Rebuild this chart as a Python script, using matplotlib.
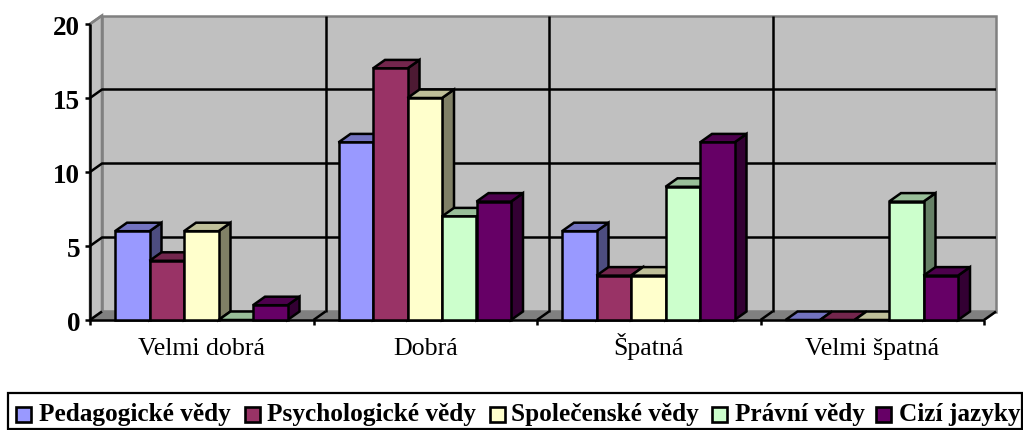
import matplotlib
matplotlib.use('Agg')
import matplotlib.pyplot as plt
from matplotlib.colors import to_rgb
from matplotlib.patches import Polygon, Rectangle
from matplotlib.transforms import offset_copy

plt.rcParams['font.family'] = ['Liberation Serif', 'DejaVu Serif']

categories = ['Velmi dobrá', 'Dobrá', 'Špatná', 'Velmi špatná']
series_names = ['Pedagogické vědy', 'Psychologické vědy', 'Společenské vědy', 'Právní vědy', 'Cizí jazyky']
pedagogicke = [6, 12, 6, 0]
psychologicke = [4, 17, 3, 0]
spolecenske = [6, 15, 3, 0]
pravni = [0, 7, 9, 8]
cizi = [1, 8, 12, 3]
series_values = [pedagogicke, psychologicke, spolecenske, pravni, cizi]
colors = ['#9999FF', '#993366', '#FFFFCC', '#CCFFCC', '#660066']
y_ticks = [0, 5, 10, 15, 20]

W, H = 1023, 431
LEFT, RIGHT, TOP, BOTTOM = 90, 984, 25, 321
# depth of the fake 3D box, in data units
DX = 12 / ((RIGHT - LEFT) / 4)
DY = 8.5 / ((BOTTOM - TOP) / 20)
BAR_W = 34.5 / ((RIGHT - LEFT) / 4)
GAP = 25 / ((RIGHT - LEFT) / 4)
LW = 1.8


def shade(color, factor):
    return tuple(c * factor for c in to_rgb(color))


def poly(ax, pts, face, edge='black', lw=LW, z=2):
    ax.add_patch(Polygon(pts, closed=True, facecolor=face, edgecolor=edge,
                         linewidth=lw, zorder=z, clip_on=False, joinstyle='miter'))


def line(ax, xs, ys, color='black', lw=LW, z=1.5):
    ax.plot(xs, ys, color=color, lw=lw, zorder=z, clip_on=False, solid_capstyle='butt')


fig = plt.figure(figsize=(W / 100, H / 100), dpi=100)
ax = fig.add_axes([LEFT / W, 1 - BOTTOM / H, (RIGHT - LEFT) / W, (BOTTOM - TOP) / H])
ax.set_xlim(0, len(categories))
ax.set_ylim(0, 20)
ax.axis('off')

# walls and floor
poly(ax, [(DX, DY), (4 + DX, DY), (4 + DX, 20 + DY), (DX, 20 + DY)], '#C0C0C0', '#808080', z=1)
poly(ax, [(0, 0), (DX, DY), (DX, 20 + DY), (0, 20)], '#C0C0C0', '#808080', z=1)
poly(ax, [(0, 0), (4, 0), (4 + DX, DY), (DX, DY)], '#808080', '#808080', z=1)

# gridlines on the back wall
for v in y_ticks[1:-1]:
    line(ax, [0, DX, 4 + DX], [v, v + DY, v + DY])
line(ax, [0, DX], [20, 20 + DY], color='#808080')
for i in range(1, 4):
    line(ax, [i + DX, i + DX], [DY, 20 + DY])

# axes, ticks
line(ax, [0, 0], [0, 20], z=1.8)
line(ax, [0, 4], [0, 0], z=1.8)
label_shift = offset_copy(ax.transData, fig=fig, x=0, y=-2.5, units='points')
for v in y_ticks:
    line(ax, [-5 / 223.5, 0], [v, v], z=1.8)
    ax.text(-10 / 223.5, v, str(v), ha='right', va='center', fontsize=19.5, fontweight='bold',
            transform=label_shift)
for i in range(0, 5):
    line(ax, [i, i], [0, -5 / 14.8], z=1.8)
    line(ax, [i, i + DX], [0, DY], z=1.8)
for i, cat in enumerate(categories):
    ax.text(i + 0.5, -34 / 14.8, cat, ha='center', va='baseline', fontsize=18.6)

# bars, left to right so that the later ones cover the sides of the earlier ones
for c in range(len(categories)):
    for s, vals in enumerate(series_values):
        x0 = c + GAP + s * BAR_W
        x1 = x0 + BAR_W
        v = vals[c]
        col = colors[s]
        if v > 0:
            poly(ax, [(x1, 0), (x1 + DX, DY), (x1 + DX, v + DY), (x1, v)], shade(col, 0.5), z=2 + s * 0.1)
        poly(ax, [(x0, v), (x1, v), (x1 + DX, v + DY), (x0 + DX, v + DY)], shade(col, 0.75), z=2 + s * 0.1)
        if v > 0:
            ax.add_patch(Rectangle((x0, 0), BAR_W, v, facecolor=col, edgecolor='black',
                                   linewidth=LW, zorder=2 + s * 0.1, clip_on=False))

# legend box, drawn by hand to keep the spacing of the original
fig.add_artist(Rectangle((8 / W, 1 / H), 1014 / W, 36.5 / H, transform=fig.transFigure,
                         facecolor='white', edgecolor='black', linewidth=1.6))
swatch_x = [16, 245, 490, 712, 876]
text_x = [39, 267, 511, 735, 899]
for name, col, sx, tx in zip(series_names, colors, swatch_x, text_x):
    fig.add_artist(Rectangle((sx / W, 1 - 423 / H), 15 / W, 15 / H, transform=fig.transFigure,
                             facecolor=col, edgecolor='black', linewidth=1.9))
    fig.text(tx / W, 1 - 421 / H, name, ha='left', va='baseline', fontsize=18.2, fontweight='bold')

fig.savefig('out.png', dpi=100)
